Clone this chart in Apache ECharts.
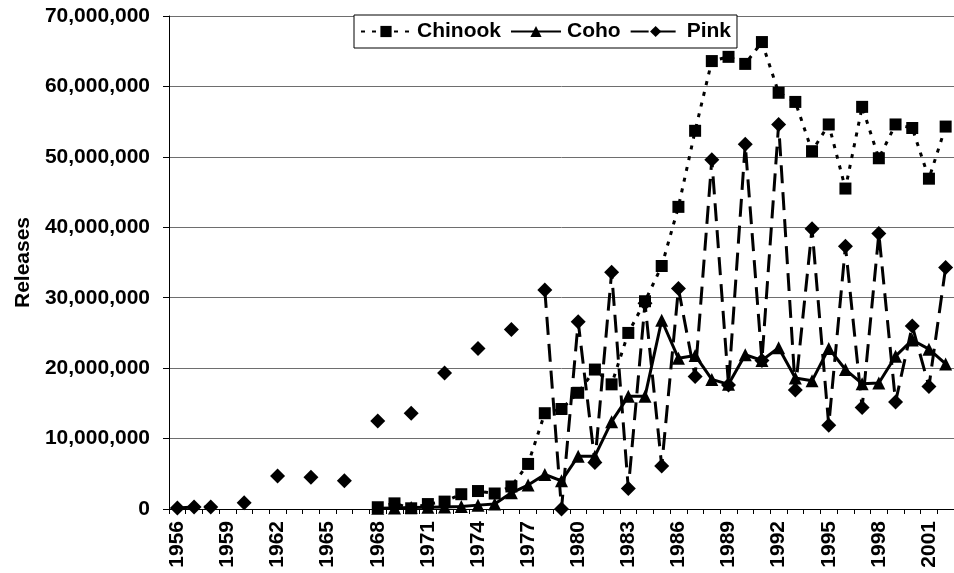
<!DOCTYPE html>
<html>
<head>
<meta charset="utf-8">
<script src="https://cdn.jsdelivr.net/npm/echarts@6/dist/echarts.min.js"></script>
<style>
  html, body { margin: 0; padding: 0; background: #fff; }
  #chart { width: 954px; height: 573px; }
</style>
</head>
<body>
<div id="chart"></div>
<script>
var chartDom = document.getElementById('chart');
var myChart = echarts.init(chartDom);

// release years
let years = ['1956','1957','1958','1959','1960','1961','1962','1963','1964','1965',
  '1966','1967','1968','1969','1970','1971','1972','1973','1974','1975',
  '1976','1977','1978','1979','1980','1981','1982','1983','1984','1985',
  '1986','1987','1988','1989','1990','1991','1992','1993','1994','1995',
  '1996','1997','1998','1999','2000','2001','2002'];

// releases, in millions of fish
let chinook = [null,null,null,null,null,null,null,null,null,null,null,null,
  0.25,0.8,0.1,0.7,1.05,2.1,2.55,2.2,3.2,6.4,
  13.6,14.2,16.5,19.8,17.7,25.0,29.5,34.5,42.9,53.7,
  63.6,64.2,63.2,66.3,59.1,57.8,50.8,54.6,45.5,57.1,
  49.8,54.6,54.1,46.9,54.3];

let coho = [null,null,null,null,null,null,null,null,null,null,null,null,
  0.1,0.15,0.2,0.25,0.3,0.35,0.55,0.7,2.3,3.4,
  4.9,4.0,7.5,7.5,12.4,16.0,16.0,26.8,21.4,21.8,
  18.4,17.7,21.9,21.1,22.9,18.6,18.2,22.8,19.8,17.8,
  17.9,21.7,24.0,22.7,20.6];

let pink = [0.15,0.3,0.3,null,0.9,null,4.7,null,4.5,null,4.0,null,
  12.5,null,13.6,null,19.3,null,22.8,null,25.5,null,
  31.1,0,26.6,6.6,33.6,2.9,29.2,6.1,31.3,18.8,
  49.6,17.6,51.8,21.1,54.6,16.9,39.8,11.9,37.3,14.4,
  39.1,15.2,26.0,17.4,34.3];

let yTicks = [0, 10, 20, 30, 40, 50, 60, 70];

const font = 'Liberation Sans';

var option = {
  animation: false,
  textStyle: { fontFamily: font },
  grid: { left: 169, top: 16, width: 795, height: 493 },
  legend: {
    left: 354,
    top: 15,
    padding: [6, 6, 6, 6],
    itemGap: 9,
    itemWidth: 50,
    itemHeight: 14,
    backgroundColor: '#fff',
    borderColor: '#000',
    borderWidth: 1,
    borderRadius: 0,
    textStyle: { fontFamily: font, fontSize: 21, fontWeight: 'bold', color: '#000', padding: [0, 0, 0, 1] },
    data: ['Chinook', 'Coho', 'Pink']
  },
  xAxis: {
    type: 'category',
    data: years,
    boundaryGap: true,
    axisLine: { lineStyle: { color: '#000', width: 1 } },
    axisTick: { show: true, interval: 0, length: 5, lineStyle: { color: '#000' } },
    axisLabel: {
      interval: 2,
      rotate: 90,
      margin: 12,
      color: '#000',
      fontFamily: font,
      fontSize: 21,
      fontWeight: 'bold'
    },
    splitLine: { show: false }
  },
  yAxis: {
    type: 'value',
    min: yTicks[0],
    max: yTicks[yTicks.length - 1],
    interval: 10,
    name: 'Releases',
    nameLocation: 'middle',
    nameGap: 134,
    nameTextStyle: { fontFamily: font, fontSize: 21, fontWeight: 'bold', color: '#000' },
    axisLine: { show: true, lineStyle: { color: '#000', width: 1 } },
    axisTick: { show: true, length: 6, lineStyle: { color: '#000' } },
    axisLabel: {
      margin: 19,
      color: '#000',
      fontFamily: font,
      fontSize: 21,
      fontWeight: 'bold',
      formatter: function (v) {
        return (v * 1000000).toLocaleString('en-US');
      }
    },
    splitLine: { show: true, lineStyle: { color: '#6e6e6e', width: 1 } }
  },
  series: [
    {
      name: 'Chinook',
      type: 'line',
      data: chinook,
      symbol: 'rect',
      symbolSize: 12,
      showAllSymbol: true,
      connectNulls: false,
      itemStyle: { color: '#000' },
      lineStyle: { color: '#000', width: 3, type: [4, 7] }
    },
    {
      name: 'Coho',
      type: 'line',
      data: coho,
      symbol: 'triangle',
      symbolSize: 13,
      showAllSymbol: true,
      connectNulls: false,
      itemStyle: { color: '#000' },
      lineStyle: { color: '#000', width: 3, type: 'solid' }
    },
    {
      name: 'Pink',
      type: 'line',
      data: pink,
      symbol: 'diamond',
      symbolSize: 15,
      showAllSymbol: true,
      connectNulls: false,
      itemStyle: { color: '#000' },
      lineStyle: { color: '#000', width: 3, type: [18, 9] }
    }
  ]
};

myChart.setOption(option);
</script>
</body>
</html>
